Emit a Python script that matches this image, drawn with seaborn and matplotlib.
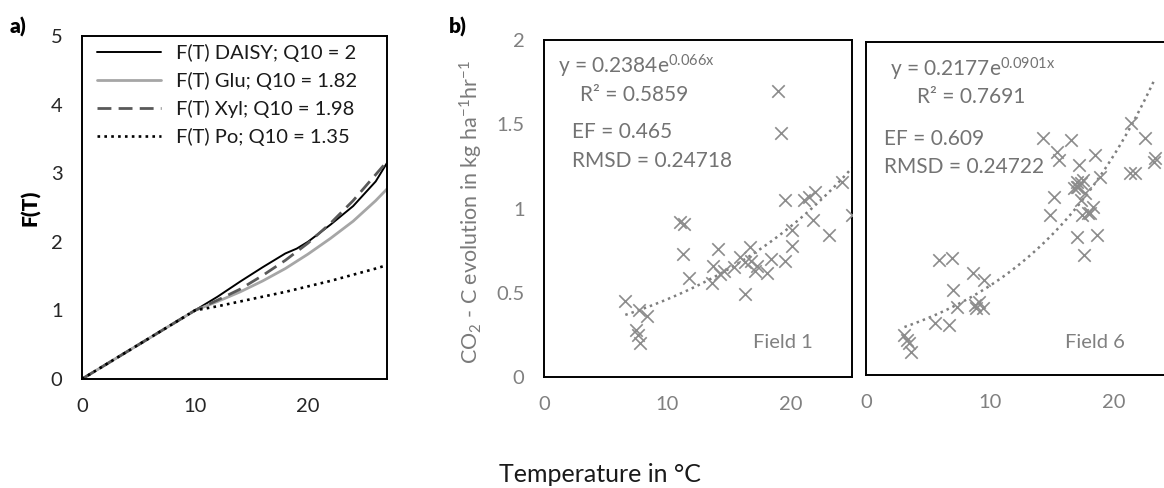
import numpy as np
import pandas as pd
import matplotlib
matplotlib.use("Agg")
import matplotlib.pyplot as plt
import seaborn as sns

# ---------------- data ----------------
# panel a: temperature response functions
temp_daisy = [0, 10, 12, 14, 16, 18, 19, 20, 22, 24, 26, 27]
f_daisy = [0, 1.0, 1.2, 1.42, 1.63, 1.83, 1.9, 2.0, 2.25, 2.52, 2.88, 3.15]
temp_q10 = [0, 10, 12, 14, 16, 18, 20, 22, 24, 26, 27]
f_glu = [0, 1.0, 1.13, 1.27, 1.43, 1.61, 1.82, 2.05, 2.30, 2.60, 2.77]
f_xyl = [0, 1.0, 1.15, 1.31, 1.51, 1.73, 1.98, 2.27, 2.60, 2.98, 3.17]
f_po = [0, 1.0, 1.06, 1.13, 1.20, 1.27, 1.35, 1.43, 1.52, 1.61, 1.66]
labels_a = ["F(T) DAISY; Q10 = 2", "F(T) Glu; Q10 = 1.82",
            "F(T) Xyl; Q10 = 1.98", "F(T) Po; Q10 = 1.35"]

# panel b: Field 1
temp_f1 = [6.6, 7.7, 8.4, 7.5, 7.6, 7.8, 11.0, 11.4, 11.3, 11.8, 14.1, 13.7, 13.6,
           14.3, 14.6, 15.4, 15.9, 16.3, 16.7, 16.8, 17.1, 17.3, 18.1, 18.4, 16.3,
           19.6, 20.1, 20.1, 19.6, 21.1, 21.5, 22.0, 21.8, 23.1, 24.2, 25.0, 19.0, 19.2]
co2_f1 = [0.45, 0.40, 0.36, 0.28, 0.25, 0.20, 0.92, 0.91, 0.73, 0.59, 0.76, 0.66, 0.56,
          0.61, 0.63, 0.65, 0.71, 0.68, 0.77, 0.69, 0.63, 0.66, 0.62, 0.70, 0.49,
          0.69, 0.78, 0.87, 1.05, 1.05, 1.07, 1.10, 0.93, 0.84, 1.16, 0.96, 1.70, 1.45]
# panel b: Field 6
temp_f6 = [3.1, 3.5, 3.6, 3.3, 5.9, 6.9, 7.0, 7.3, 5.6, 6.7, 8.6, 9.5, 8.8, 9.1, 9.4,
           8.9, 14.8, 15.2, 17.0, 17.6, 18.6, 17.4, 17.9, 18.3, 18.1, 17.3, 17.7, 17.0,
           17.3, 16.8, 14.3, 16.5, 15.4, 15.6, 18.5, 17.2, 18.9, 17.0, 17.1, 21.4, 22.5,
           21.3, 21.7, 23.2, 23.3, 17.5]
co2_f6 = [0.24, 0.19, 0.14, 0.21, 0.69, 0.70, 0.51, 0.41, 0.31, 0.30, 0.61, 0.57, 0.42,
          0.44, 0.40, 0.40, 0.96, 1.07, 0.83, 0.72, 0.84, 0.96, 0.97, 1.01, 0.97, 1.05,
          1.09, 1.13, 1.15, 1.12, 1.42, 1.41, 1.34, 1.29, 1.32, 1.26, 1.19, 1.16, 1.13,
          1.51, 1.42, 1.21, 1.21, 1.28, 1.30, 1.17]
# exponential trend lines (coefficients shown on the chart)
trend_f1 = (0.2384, 0.066)
trend_f6 = (0.2177, 0.0901)
stats_f1 = ["y = 0.2384e$^{\\mathrm{0.066x}}$", "R² = 0.5859", "EF = 0.465", "RMSD = 0.24718"]
stats_f6 = ["y = 0.2177e$^{\\mathrm{0.0901x}}$", "R² = 0.7691", "EF = 0.609", "RMSD = 0.24722"]

# ---------------- style ----------------
sns.set_theme(style="white")
FONT = ["Lato", "DejaVu Sans"]
plt.rcParams["font.family"] = FONT
plt.rcParams["mathtext.fontset"] = "custom"
plt.rcParams["mathtext.rm"] = "Lato"
plt.rcParams["mathtext.it"] = "Lato:italic"
plt.rcParams["mathtext.bf"] = "Lato:bold"

W, H = 1164, 488
fig = plt.figure(figsize=(W / 100, H / 100), dpi=100)


def rect(left, right, top, bottom):
    return [left / W, 1 - bottom / H, (right - left) / W, (bottom - top) / H]


def fpos(x, y):
    return x / W, 1 - y / H


axA = fig.add_axes(rect(82, 387, 36, 379))
axB1 = fig.add_axes(rect(544, 852, 40, 377))
axB2 = fig.add_axes(rect(866, 1176, 41.5, 375))

# ---------------- panel a ----------------
df_daisy = pd.DataFrame({"T": temp_daisy, "F": f_daisy})
df_q = pd.DataFrame({"T": temp_q10, "Glu": f_glu, "Xyl": f_xyl, "Po": f_po})
sns.lineplot(data=df_daisy, x="T", y="F", ax=axA, color="black", lw=1.4,
             label=labels_a[0])
sns.lineplot(data=df_q, x="T", y="Glu", ax=axA, color="#a6a6a6", lw=2.0,
             label=labels_a[1])
sns.lineplot(data=df_q, x="T", y="Xyl", ax=axA, color="#595959", lw=2.0,
             linestyle=(0, (5, 2.6)), label=labels_a[2])
sns.lineplot(data=df_q, x="T", y="Po", ax=axA, color="black", lw=1.9,
             linestyle=(0, (1, 1.6)), label=labels_a[3])
axA.set_xlim(0, 27)
axA.set_ylim(0, 5)
axA.set_xticks([0, 10, 20])
axA.set_yticks([0, 1, 2, 3, 4, 5])
axA.set_xlabel("")
axA.set_ylabel("")
axA.tick_params(axis="both", direction="out", length=4, width=1.2, pad=10,
                labelsize=14.5, colors="#262626")
leg = axA.legend(loc="upper left", bbox_to_anchor=(0.048, 0.978), frameon=False,
                 fontsize=14.5, handlelength=3.2, handletextpad=0.75,
                 labelspacing=0.5, borderaxespad=0, borderpad=0)
for t in leg.get_texts():
    t.set_color("#1a1a1a")

# ---------------- panel b ----------------
marker_color = "#8c8c8c"
for ax, xs, ys, (a, b) in [(axB1, temp_f1, co2_f1, trend_f1),
                           (axB2, temp_f6, co2_f6, trend_f6)]:
    df = pd.DataFrame({"T": xs, "CO2": ys})
    sns.scatterplot(data=df, x="T", y="CO2", ax=ax, marker="x", s=80,
                    color=marker_color, linewidth=1.2, zorder=3)
    tx = np.linspace(min(xs), max(xs), 100)
    tr = pd.DataFrame({"T": tx, "fit": a * np.exp(b * tx)})
    sns.lineplot(data=tr, x="T", y="fit", ax=ax, color="#7f7f7f", lw=1.8,
                 linestyle=(0, (1, 1.6)), zorder=2)
    ax.set_xlim(0, 25)
    ax.set_ylim(0, 2)
    ax.set_xticks([0, 10, 20])
    ax.set_xlabel("")
    ax.set_ylabel("")
    ax.tick_params(axis="both", direction="out", length=4, width=1.2, pad=10,
                   labelsize=14.5, colors="black", labelcolor="#808080")

axB1.set_yticks([0, 0.5, 1, 1.5, 2])
axB1.set_yticklabels(["0", "0.5", "1", "1.5", "2"])
axB2.set_yticks([0, 0.5, 1, 1.5, 2])
axB2.tick_params(axis="y", left=False, labelleft=False)

for ax in (axA, axB1, axB2):
    for sp in ax.spines.values():
        sp.set_visible(True)
        sp.set_color("black")
        sp.set_linewidth(1.4)

ann_color = "#737373"
ann_fs = 15
for (x, y), txt in zip([(558, 73), (580, 101), (572, 138), (572, 167)], stats_f1):
    fig.text(*fpos(x, y), txt, ha="left", va="baseline", fontsize=ann_fs, color=ann_color)
for (x, y), txt in zip([(890, 76), (917, 103), (884, 145), (884, 173)], stats_f6):
    fig.text(*fpos(x, y), txt, ha="left", va="baseline", fontsize=ann_fs, color=ann_color)
fig.text(*fpos(753, 348), "Field 1", ha="left", va="baseline", fontsize=14.5, color="#808080")
fig.text(*fpos(1065, 348), "Field 6", ha="left", va="baseline", fontsize=14.5, color="#808080")

# axis titles and panel letters
fig.text(*fpos(30, 208), "F(T)", rotation=90, ha="center", va="center",
         fontsize=15, fontweight="heavy", color="black")
fig.text(*fpos(471, 212), "CO$_2$ - C evolution in kg ha$^{-1}$hr$^{-1}$",
         rotation=90, ha="center", va="center", fontsize=15.5, color="#7a7a7a")
fig.text(*fpos(600, 474), "Temperature in °C", ha="center", va="center",
         fontsize=18, color="#1a1a1a")
fig.text(*fpos(10, 27), "a)", ha="left", va="center", fontsize=15,
         fontweight="heavy", color="black")
fig.text(*fpos(449, 27), "b)", ha="left", va="center", fontsize=15,
         fontweight="heavy", color="black")

fig.savefig("out.png", dpi=100)
